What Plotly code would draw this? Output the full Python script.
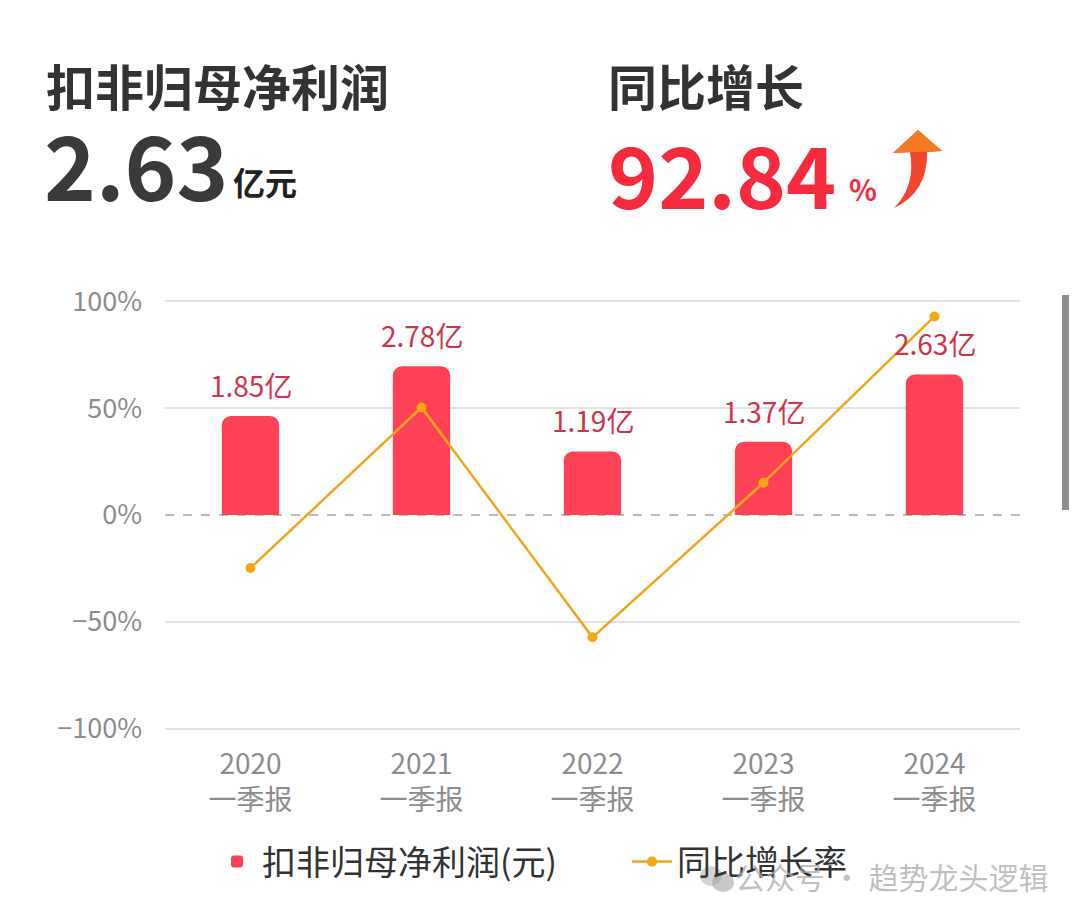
import plotly.graph_objects as go

# ---------------- data ----------------
categories = ["2020<br>一季报", "2021<br>一季报", "2022<br>一季报", "2023<br>一季报", "2024<br>一季报"]
profit_yi = [1.85, 2.78, 1.19, 1.37, 2.63]          # 扣非归母净利润 (亿元)
growth_pct = [-24.8, 50.3, -57.2, 15.1, 92.84]      # 同比增长率 (%)
ytick_vals = [-100, -50, 0, 50, 100]
ytick_text = ["\u2212100%", "\u221250%", "0%", "50%", "100%"]
headline_profit = "2.63"
headline_growth = "92.84"

# ---------------- geometry (screen pixels; page body has an 8px margin) ----------------
OFF = 8
W, H = 1072, 909
SX0, SX1 = 165, 1020          # plot area left / right on screen
SY0, SY1 = 299, 731           # plot area top / bottom on screen
L, R = SX0 - OFF, W - (SX1 - OFF)
T, B = SY0 - OFF, H - (SY1 - OFF)


def PX(x):
    return (x - SX0) / (SX1 - SX0)


def PY(y):
    return (SY1 - y) / (SY1 - SY0)


def path(points):
    s = ""
    for cmd, pts in points:
        s += cmd
        s += " ".join(f"{PX(a):.5f},{PY(b):.5f}" for a, b in pts) + " "
    return s + "Z"


FONT = "Noto Sans CJK SC"

fig = go.Figure()
fig.add_trace(go.Bar(
    x=categories, y=profit_yi, name="扣非归母净利润(元)",
    marker=dict(color="#FF4156", cornerradius=9, line=dict(width=0)),
    width=0.335, yaxis="y", hoverinfo="skip",
))
fig.add_trace(go.Scatter(
    x=categories, y=growth_pct, name="同比增长率", mode="lines+markers",
    line=dict(color="#F2A71A", width=2.5), marker=dict(size=10, color="#F5A612"),
    yaxis="y2", hoverinfo="skip",
))

annotations = []
# bar labels
for c, v in zip(categories, profit_yi):
    annotations.append(dict(
        x=c, y=v, xref="x", yref="y", text=f"{v:.2f}亿", showarrow=False,
        yanchor="bottom", yshift=9, font=dict(family=FONT, size=28, color="#D0344C"),
    ))

# header texts
annotations += [
    dict(x=PX(44), y=PY(84), xref="paper", yref="paper", text="<b>扣非归母净利润</b>",
         showarrow=False, xanchor="left", yanchor="middle",
         font=dict(family=FONT, size=49, color="#333333")),
    dict(x=PX(42), y=PY(163), xref="paper", yref="paper", text=f"<b>{headline_profit}</b>",
         showarrow=False, xanchor="left", yanchor="middle",
         font=dict(family=FONT, size=88, color="#3A3A3A")),
    dict(x=PX(231), y=PY(181), xref="paper", yref="paper", text="<b>亿元</b>",
         showarrow=False, xanchor="left", yanchor="middle",
         font=dict(family=FONT, size=32, color="#222222")),
    dict(x=PX(606), y=PY(84), xref="paper", yref="paper", text="<b>同比增长</b>",
         showarrow=False, xanchor="left", yanchor="middle",
         font=dict(family=FONT, size=49, color="#333333")),
    dict(x=PX(606), y=PY(171), xref="paper", yref="paper", text=f"<b>{headline_growth}</b>",
         showarrow=False, xanchor="left", yanchor="middle",
         font=dict(family=FONT, size=85, color="#F52A3C")),
    dict(x=PX(847), y=PY(188), xref="paper", yref="paper", text="<b>%</b>",
         showarrow=False, xanchor="left", yanchor="middle",
         font=dict(family=FONT, size=29, color="#F52A3C")),
    # watermark
    dict(x=PX(733), y=PY(876), xref="paper", yref="paper", text="公众号 · 趋势龙头逻辑",
         showarrow=False, xanchor="left", yanchor="middle",
         font=dict(family=FONT, size=30, color="rgba(170,170,170,0.75)")),
]

shapes = [
    # dashed zero line
    dict(type="line", xref="paper", yref="y", x0=0, x1=1, y0=0, y1=0,
         line=dict(color="#BDBDBD", width=2, dash="dash"), layer="below"),
    # arrow (red body)
    dict(type="path", xref="paper", yref="paper",
         path=path([("M", [(894, 208)]), ("Q", [(916, 186), (910, 152)]),
                    ("L", [(893, 153)]), ("L", [(918, 130)]), ("L", [(942, 151)]),
                    ("L", [(927, 152)]), ("Q", [(928, 192), (894, 208)])]),
         fillcolor="#F4452E", line=dict(width=0), layer="above"),
    # arrow (orange head)
    dict(type="path", xref="paper", yref="paper",
         path=path([("M", [(893, 153)]), ("L", [(918, 130)]), ("L", [(942, 151)])]),
         fillcolor="#F77A22", line=dict(width=0), layer="above"),
    # scrollbar
    dict(type="rect", xref="paper", yref="paper", x0=PX(1062), x1=PX(1069),
         y0=PY(510), y1=PY(295), fillcolor="#8E8E8E", line=dict(width=0), layer="above"),
    # watermark icon (two bubbles)
    dict(type="circle", xref="paper", yref="paper", x0=PX(700), x1=PX(722),
         y0=PY(886), y1=PY(866), fillcolor="rgba(175,175,175,0.55)", line=dict(width=0)),
    dict(type="circle", xref="paper", yref="paper", x0=PX(712), x1=PX(734),
         y0=PY(892), y1=PY(873), fillcolor="rgba(165,165,165,0.6)", line=dict(width=0)),
]

fig.update_layout(
    width=W, height=H, autosize=False,
    margin=dict(l=L, r=R, t=T, b=B),
    paper_bgcolor="white", plot_bgcolor="rgba(0,0,0,0)",
    font=dict(family=FONT, color="#333333"),
    showlegend=True,
    legend=dict(orientation="h", x=PX(212), xanchor="left", y=PY(862), yanchor="middle",
                font=dict(family=FONT, size=34, color="#333333"), bgcolor="rgba(0,0,0,0)",
                itemwidth=40, tracegroupgap=0, entrywidth=360, entrywidthmode="pixels"),
    xaxis=dict(type="category", showgrid=False, showline=False, zeroline=False,
               ticks="", tickfont=dict(family=FONT, size=28, color="#8C8C8C"),
               ticklabelstandoff=14),
    yaxis=dict(range=[-4.04, 4.04], visible=False, showgrid=False, zeroline=False),
    yaxis2=dict(overlaying="y", side="left", range=[-101, 101], tickmode="array",
                tickvals=ytick_vals, ticktext=ytick_text,
                showgrid=True, gridcolor="#E3E3E3", gridwidth=2,
                zeroline=True, zerolinecolor="rgba(0,0,0,0)", showline=False,
                ticks="", tickfont=dict(family=FONT, size=27, color="#8C8C8C"),
                ticklabelstandoff=22),
    annotations=annotations,
    shapes=shapes,
)

fig.write_html("out.html")
